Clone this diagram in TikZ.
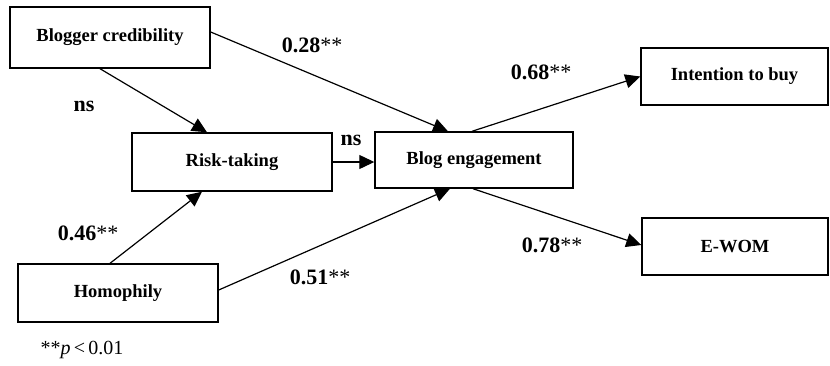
\documentclass[tikz,border=0pt]{standalone}
\usepackage{fontspec}
\setmainfont{Liberation Serif}
\usetikzlibrary{arrows.meta,calc}
\begin{document}
\begin{tikzpicture}[x=1pt,y=-1pt,
  construct/.style={draw,line width=1.4pt,rectangle,inner sep=0pt,align=center,
    font=\fontsize{18.5}{20}\selectfont\bfseries},
  path/.style={line width=1.2pt,-{Triangle[length=15pt,width=14pt]}},
  coef/.style={inner sep=0pt,font=\fontsize{22}{24}\selectfont\bfseries}]
\useasboundingbox (0,0) rectangle (830,365);

% constructs
\node[construct,minimum width=200pt,minimum height=61pt] (bc)   at (110,37.5)  {Blogger credibility};
\node[construct,minimum width=200pt,minimum height=58pt] (rt)   at (232,162)   {Risk-taking};
\node[construct,minimum width=198pt,minimum height=56pt] (be)   at (474,160)   {Blog engagement};
\node[construct,minimum width=187pt,minimum height=57pt] (itb)  at (734.5,76.5){Intention to buy};
\node[construct,minimum width=186pt,minimum height=57pt] (ewom) at (735,246.5) {E-WOM};
\node[construct,minimum width=200pt,minimum height=58pt] (ho)   at (118,293)   {Homophily};

% structural paths
\draw[path] ([xshift=-10pt]bc.south) -- ([xshift=-25pt]rt.north);
\draw[path] ([yshift=5.5pt]bc.east) -- ([xshift=-26pt]be.north);
\draw[path] (rt.east) -- (rt.east -| be.west);
\draw[path] ([xshift=-8pt]ho.north) -- ([xshift=-30pt]rt.south);
\draw[path] ([yshift=3pt]ho.east) -- ([xshift=-24pt]be.south);
\draw[path] ([xshift=-2pt]be.north) -- (itb.west);
\draw[path] ([xshift=-1pt]be.south) -- ([yshift=1.5pt]ewom.west);

% path coefficients
\node[coef] (l1) at (312,45)  {0.28\textmd{**}};
\node[coef] (l2) at (84,106)  {ns};
\node[coef] (l3) at (351,140) {ns};
\node[coef] (l4) at (541,72)  {0.68\textmd{**}};
\node[coef] (l5) at (88,233)  {0.46\textmd{**}};
\node[coef] (l6) at (320,277) {0.51\textmd{**}};
\node[coef] (l7) at (552,245) {0.78\textmd{**}};

% significance note
\node[inner sep=0pt,font=\fontsize{20}{22}\selectfont] (note) at (82,350) {**\textit{p}\,<\,0.01};
\end{tikzpicture}
\end{document}
